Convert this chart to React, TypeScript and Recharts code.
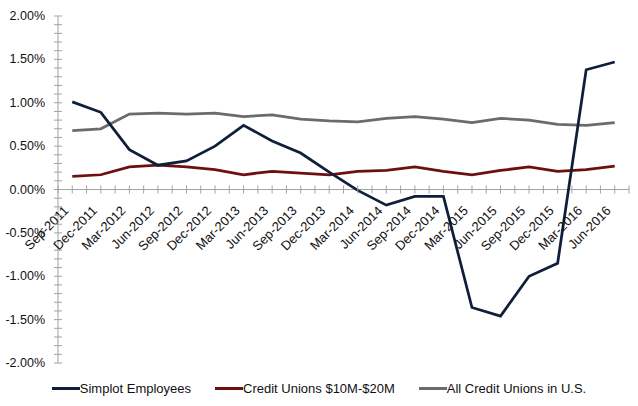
import { LineChart, Line, XAxis, YAxis, ReferenceLine, ReferenceDot } from 'recharts';

const quarters = [
  'Sep-2011', 'Dec-2011', 'Mar-2012', 'Jun-2012', 'Sep-2012', 'Dec-2012', 'Mar-2013',
  'Jun-2013', 'Sep-2013', 'Dec-2013', 'Mar-2014', 'Jun-2014', 'Sep-2014', 'Dec-2014',
  'Mar-2015', 'Jun-2015', 'Sep-2015', 'Dec-2015', 'Mar-2016', 'Jun-2016',
];

// values in percent
const simplot = [1.01, 0.89, 0.46, 0.28, 0.33, 0.5, 0.74, 0.56, 0.42, 0.2, -0.01, -0.18, -0.08, -0.08, -1.36, -1.46, -1.0, -0.85, 1.38, 1.47];
const cu10to20 = [0.15, 0.17, 0.26, 0.28, 0.26, 0.23, 0.17, 0.21, 0.19, 0.17, 0.21, 0.22, 0.26, 0.21, 0.17, 0.22, 0.26, 0.21, 0.23, 0.27];
const allCu = [0.68, 0.7, 0.87, 0.88, 0.87, 0.88, 0.84, 0.86, 0.81, 0.79, 0.78, 0.82, 0.84, 0.81, 0.77, 0.82, 0.8, 0.75, 0.74, 0.77];

const majorTicks = [-2, -1.5, -1, -0.5, 0, 0.5, 1, 1.5, 2];
const seriesNames = ['Simplot Employees', 'Credit Unions $10M-$20M', 'All Credit Unions in U.S.'];
const seriesColors = ['#0f1f3a', '#6e0f0f', '#6b6b6b'];

// minor ticks every 0.1%
const minorTicks: number[] = [];
for (let i = -20; i <= 20; i++) minorTicks.push(i / 10);

const data = quarters.map((q, i) => ({
  q,
  simplot: simplot[i],
  cu: cu10to20[i],
  all: allCu[i],
}));

const W = 638;
const H = 406;
const MARGIN = { top: 16, right: 9, bottom: 43, left: 0 };
const Y_AXIS_W = 58;
const PLOT_W = W - MARGIN.right - MARGIN.left - Y_AXIS_W;
const STEP = PLOT_W / quarters.length;
const AXIS_GRAY = '#a3a3a3';
const FONT = '"Liberation Sans", Arial, sans-serif';

function YTick({ x, y, payload }: any) {
  const ax = x + 13;
  const isMajor = majorTicks.some((t) => Math.abs(t - payload.value) < 1e-6);
  return (
    <g>
      <line x1={ax - 4} x2={ax + 4} y1={y} y2={y} stroke={AXIS_GRAY} strokeWidth={1} />
      {isMajor && (
        <text x={x} y={y} textAnchor="end" dominantBaseline="central" fontSize={12.5} fill="#111" fontFamily={FONT}>
          {payload.value.toFixed(2)}%
        </text>
      )}
    </g>
  );
}

function CategoryTick({ cx, cy, label, last }: any) {
  const tx = cx - 3;
  const ty = cy + 22;
  return (
    <g>
      <line x1={cx} x2={cx} y1={cy - 4} y2={cy + 4} stroke={AXIS_GRAY} />
      <line x1={cx - STEP / 2} x2={cx - STEP / 2} y1={cy - 4} y2={cy + 4} stroke={AXIS_GRAY} />
      {last && <line x1={cx + STEP / 2} x2={cx + STEP / 2} y1={cy - 4} y2={cy + 4} stroke={AXIS_GRAY} />}
      <text
        x={tx}
        y={ty}
        textAnchor="end"
        fontSize={13}
        fill="#111"
        fontFamily={FONT}
        transform={`rotate(-45 ${tx} ${ty})`}
      >
        {label}
      </text>
    </g>
  );
}

function LegendRow() {
  return (
    <div
      style={{
        position: 'absolute',
        top: 381,
        left: 0,
        width: W,
        display: 'flex',
        justifyContent: 'center',
        gap: 24,
        fontFamily: FONT,
        fontSize: 13,
        color: '#111',
      }}
    >
      {seriesNames.map((name, i) => (
        <div key={name} style={{ display: 'flex', alignItems: 'center' }}>
          <span style={{ display: 'inline-block', width: 28, height: 3, background: seriesColors[i] }} />
          <span>{name}</span>
        </div>
      ))}
    </div>
  );
}

export default function App() {
  return (
    <div style={{ position: 'absolute', left: 0, top: 0, width: W, height: H, background: '#fff', fontFamily: FONT }}>
      <LineChart width={W} height={H} data={data} margin={MARGIN}>
        <XAxis dataKey="q" hide padding={{ left: STEP / 2, right: STEP / 2 }} />
        <YAxis
          width={Y_AXIS_W}
          domain={[-2, 2]}
          ticks={minorTicks}
          interval={0}
          tickLine={false}
          tickSize={4}
          tickMargin={9}
          axisLine={{ stroke: AXIS_GRAY }}
          tick={<YTick />}
        />
        <ReferenceLine y={0} stroke={AXIS_GRAY} strokeWidth={1} />
        {quarters.map((q, i) => (
          <ReferenceDot
            key={q}
            x={q}
            y={0}
            ifOverflow="visible"
            shape={(props: any) => <CategoryTick {...props} label={q} last={i === quarters.length - 1} />}
          />
        ))}
        <Line type="linear" dataKey="cu" stroke={seriesColors[1]} strokeWidth={2.75} dot={false} isAnimationActive={false} />
        <Line type="linear" dataKey="all" stroke={seriesColors[2]} strokeWidth={2.75} dot={false} isAnimationActive={false} />
        <Line type="linear" dataKey="simplot" stroke={seriesColors[0]} strokeWidth={2.75} dot={false} isAnimationActive={false} />
      </LineChart>
      <LegendRow />
    </div>
  );
}
